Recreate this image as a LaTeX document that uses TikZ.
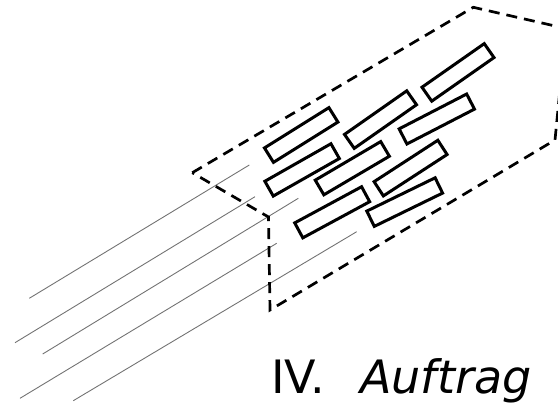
\documentclass[tikz,border=0pt]{standalone}
\usepackage{fontspec}
\setmainfont{DejaVu Sans}
\usepackage{tikz}

\tikzset{
  brick/.style={rectangle, draw, line width=3pt, inner sep=0pt,
    minimum width=76pt, minimum height=17pt},
  hull/.style={line width=2.7pt, dash pattern=on 11pt off 7pt},
  ray/.style={draw=black!55, line width=0.9pt},
}

\begin{document}
\begin{tikzpicture}[x=1pt, y=-1pt]
	\useasboundingbox (0,0) rectangle (558,403);
	\clip (0,0) rectangle (558,403);

	% incoming rays
	\coordinate (r1a) at (29.3,298.3);  \coordinate (r1b) at (249.3,165);
	\coordinate (r2a) at (15,342.7);    \coordinate (r2b) at (255,196.7);
	\coordinate (r3a) at (42.7,354);    \coordinate (r3b) at (298.3,198.3);
	\coordinate (r4a) at (20,398.3);    \coordinate (r4b) at (276.7,243.3);
	\coordinate (r5a) at (73.3,400.7);  \coordinate (r5b) at (356.7,231.7);
	\foreach \i in {1,...,5}
		\draw[ray] (r\i a) -- (r\i b);

	% dashed outline around the stack
	\coordinate (h1) at (192.3,172.7);
	\coordinate (h2) at (473.3,7.3);
	\coordinate (h3) at (566,28.5);
	\coordinate (h4) at (555,140);
	\coordinate (h5) at (270,310);
	\coordinate (h6) at (268.5,217);
	\draw[hull] (h1) -- (h2) -- (h3) -- (h4) -- (h5) -- (h6) -- cycle;

	% bricks
	\node[brick, rotate=32]   (b1) at (301.2,135.0) {};
	\node[brick, rotate=35]   (b2) at (380.5,119.6) {};
	\node[brick, rotate=35]   (b3) at (458.0,72.4) {};
	\node[brick, rotate=29.6] (b4) at (302.1,169.9) {};
	\node[brick, rotate=30.5] (b5) at (352.3,168.2) {};
	\node[brick, rotate=27.3] (b6) at (436.8,119.0) {};
	\node[brick, rotate=33]   (b7) at (410.6,168.1) {};
	\node[brick, rotate=28.4] (b8) at (332.2,212.3) {};
	\node[brick, rotate=26]   (b9) at (404.7,202.1) {};

	\node[anchor=base west, inner sep=0pt, font=\fontsize{46}{54}\selectfont] (title) at (271,394) {IV.\hspace{0.77em}\textit{Auftrag}};
\end{tikzpicture}
\end{document}
